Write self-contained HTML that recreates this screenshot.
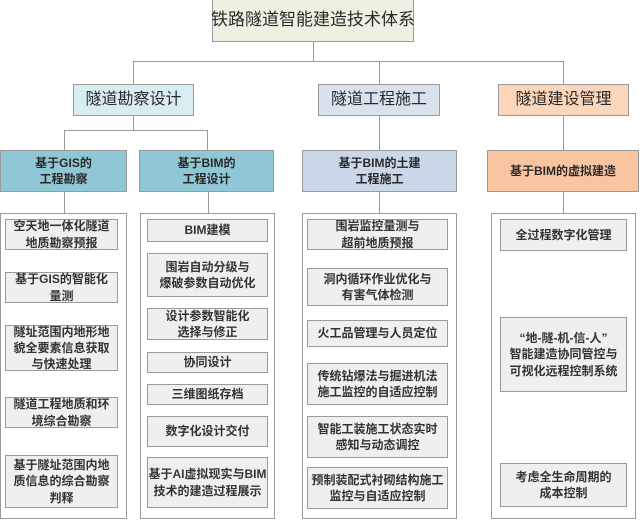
<!DOCTYPE html>
<html><head><meta charset="utf-8"><style>
*{margin:0;padding:0;box-sizing:border-box}
body{width:640px;height:520px;background:#fff;position:relative;overflow:hidden;font-family:"Liberation Sans","Noto Sans CJK SC",sans-serif;color:#2a2a2a}
.b{position:absolute;display:flex;align-items:center;justify-content:center;text-align:center;border:1px solid #9a9a9a;line-height:1.35;white-space:nowrap}
.i{background:#efeff0;font-size:12px;font-weight:bold;color:#333}
.c{position:absolute;border:1px solid #9a9a9a;background:#fff}
.l{position:absolute;background:#999}
</style></head><body>
<div class="l" style="left:313px;top:42px;width:1px;height:19px"></div>
<div class="l" style="left:133px;top:61px;width:431px;height:1px"></div>
<div class="l" style="left:133px;top:61px;width:1px;height:23px"></div>
<div class="l" style="left:379px;top:61px;width:1px;height:23px"></div>
<div class="l" style="left:563px;top:61px;width:1px;height:23px"></div>
<div class="l" style="left:133px;top:116px;width:1px;height:14px"></div>
<div class="l" style="left:64px;top:130px;width:144px;height:1px"></div>
<div class="l" style="left:64px;top:130px;width:1px;height:20px"></div>
<div class="l" style="left:207px;top:130px;width:1px;height:20px"></div>
<div class="l" style="left:379px;top:116px;width:1px;height:34px"></div>
<div class="l" style="left:563px;top:116px;width:1px;height:34px"></div>
<div class="l" style="left:64px;top:191px;width:1px;height:22px"></div>
<div class="l" style="left:208px;top:191px;width:1px;height:22px"></div>
<div class="l" style="left:379px;top:191px;width:1px;height:22px"></div>
<div class="l" style="left:563px;top:191px;width:1px;height:22px"></div>

<div class="b" style="left:212px;top:-1px;width:202px;height:43px;background:#eef0e2;font-size:17px">铁路隧道智能建造技术体系</div>
<div class="b" style="left:73px;top:84px;width:121px;height:32px;background:#d8ecf1;font-size:16px">隧道勘察设计</div>
<div class="b" style="left:318px;top:84px;width:122px;height:32px;background:#d9e3ee;font-size:16px">隧道工程施工</div>
<div class="b" style="left:498px;top:84px;width:131px;height:32px;background:#fbd6ba;font-size:16px">隧道建设管理</div>

<div class="b" style="left:0;top:150px;width:127px;height:42px;background:#8fc7d6;font-size:12px;font-weight:bold">基于GIS的<br>工程勘察</div>
<div class="b" style="left:139px;top:150px;width:135px;height:42px;background:#8fc7d6;font-size:12px;font-weight:bold">基于BIM的<br>工程设计</div>
<div class="b" style="left:302px;top:150px;width:155px;height:42px;background:#c9d7e8;font-size:12px;font-weight:bold">基于BIM的土建<br>工程施工</div>
<div class="b" style="left:487px;top:150px;width:152px;height:42px;background:#f9c4a0;font-size:12px;font-weight:bold">基于BIM的虚拟建造</div>

<div class="c" style="left:0;top:213px;width:127px;height:306px"></div>
<div class="c" style="left:140px;top:213px;width:135px;height:306px"></div>
<div class="c" style="left:302px;top:213px;width:155px;height:306px"></div>
<div class="c" style="left:491px;top:213px;width:145px;height:306px"></div>

<div class="b i" style="left:5px;top:219px;width:113px;height:31px">空天地一体化隧道<br>地质勘察预报</div>
<div class="b i" style="left:5px;top:272px;width:113px;height:31px">基于GIS的智能化<br>量测</div>
<div class="b i" style="left:5px;top:325px;width:113px;height:46px">隧址范围内地形地<br>貌全要素信息获取<br>与快速处理</div>
<div class="b i" style="left:5px;top:397px;width:113px;height:31px">隧道工程地质和环<br>境综合勘察</div>
<div class="b i" style="left:5px;top:455px;width:113px;height:53px">基于隧址范围内地<br>质信息的综合勘察<br>判释</div>

<div class="b i" style="left:147px;top:219px;width:121px;height:23px">BIM建模</div>
<div class="b i" style="left:147px;top:253px;width:121px;height:44px">围岩自动分级与<br>爆破参数自动优化</div>
<div class="b i" style="left:147px;top:308px;width:121px;height:32px">设计参数智能化<br>选择与修正</div>
<div class="b i" style="left:147px;top:352px;width:121px;height:21px">协同设计</div>
<div class="b i" style="left:147px;top:384px;width:121px;height:21px">三维图纸存档</div>
<div class="b i" style="left:147px;top:416px;width:121px;height:31px">数字化设计交付</div>
<div class="b i" style="left:147px;top:457px;width:121px;height:51px">基于AI虚拟现实与BIM<br>技术的建造过程展示</div>

<div class="b i" style="left:307px;top:219px;width:141px;height:31px">围岩监控量测与<br>超前地质预报</div>
<div class="b i" style="left:307px;top:268px;width:141px;height:38px">洞内循环作业优化与<br>有害气体检测</div>
<div class="b i" style="left:307px;top:320px;width:141px;height:27px">火工品管理与人员定位</div>
<div class="b i" style="left:307px;top:363px;width:141px;height:42px">传统钻爆法与掘进机法<br>施工监控的自适应控制</div>
<div class="b i" style="left:307px;top:416px;width:141px;height:42px">智能工装施工状态实时<br>感知与动态调控</div>
<div class="b i" style="left:307px;top:467px;width:141px;height:42px">预制装配式衬砌结构施工<br>监控与自适应控制</div>

<div class="b i" style="left:500px;top:219px;width:127px;height:32px">全过程数字化管理</div>
<div class="b i" style="left:500px;top:317px;width:127px;height:75px">“地-隧-机-信-人”<br>智能建造协同管控与<br>可视化远程控制系统</div>
<div class="b i" style="left:500px;top:463px;width:127px;height:44px">考虑全生命周期的<br>成本控制</div>
</body></html>
